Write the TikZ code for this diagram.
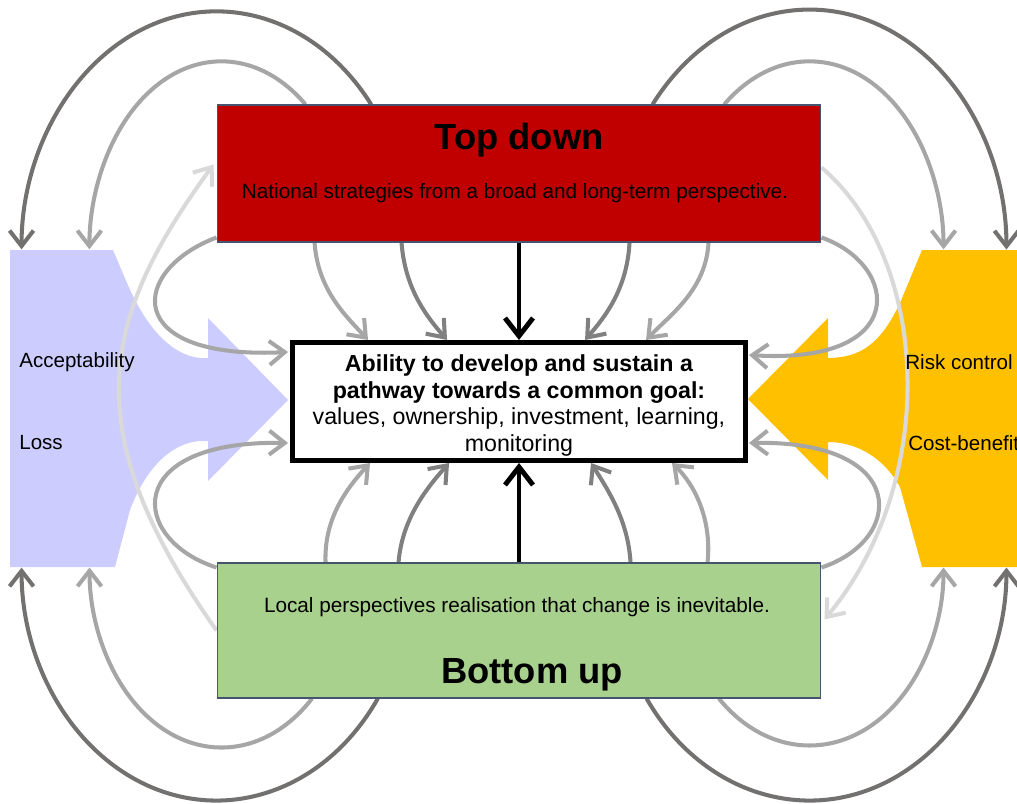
\documentclass[tikz,border=0pt]{standalone}
\usepackage{fontspec}
\setmainfont{Liberation Sans}
\usetikzlibrary{arrows.meta,calc,positioning,backgrounds}

\definecolor{topred}{RGB}{192,0,0}
\definecolor{botgreen}{RGB}{169,209,142}
\definecolor{lavender}{RGB}{204,204,255}
\definecolor{amber}{RGB}{255,192,0}
\definecolor{edgeblue}{RGB}{70,84,112}
\definecolor{arcdark}{RGB}{115,112,112}
\definecolor{arcmid}{RGB}{166,166,166}
\definecolor{arclight}{RGB}{217,217,217}
\definecolor{innerdark}{RGB}{128,128,128}

\tikzset{
  barb/.style={-{Straight Barb[length=3.1mm,width=4.8mm]}, line width=2.3pt},
  darkarr/.style={barb, draw=arcdark},
  midarr/.style={barb, draw=arcmid},
  lightarr/.style={barb, draw=arclight},
  innerarr/.style={barb, draw=innerdark},
  blackarr/.style={-{Straight Barb[length=3.6mm,width=5.6mm]}, line width=2.8pt, draw=black},
  levelbox/.style={draw=edgeblue, line width=0.6pt, minimum width=12.08cm, inner sep=0pt},
  goalbox/.style={draw=black, fill=white, line width=2.85pt, minimum width=9.06cm, minimum height=2.36cm, inner sep=0pt},
  goaltext/.style={align=center, inner sep=0pt, font=\fontsize{13.2}{15.3}\selectfont},
  sidetext/.style={anchor=west, inner sep=0pt, font=\fontsize{11.7}{14}\selectfont},
  boxtext/.style={inner sep=0pt, font=\fontsize{11.8}{14}\selectfont},
  headtext/.style={inner sep=0pt, font=\bfseries\fontsize{20.7}{24}\selectfont},
}

\begin{document}
\begin{tikzpicture}[x=0.02cm,y=0.02cm]
\useasboundingbox (0,0) rectangle (1017,-804);

% the three boxes
\node[levelbox, fill=topred, minimum height=2.74cm] (top) at (519,-173.5) {};
\node[levelbox, fill=botgreen, minimum height=2.70cm] (bottom) at (519,-630.5) {};
\node[goalbox] (goal) at (519,-401.5) {};

\node[headtext] (topdown) at (519,-140) {Top down};
\node[boxtext] (national) at (515,-193) {National strategies from a broad and long-term perspective.};
\node[boxtext] (local) at (517,-607) {Local perspectives realisation that change is inevitable.};
\node[headtext] (bottomup) at (532,-675) {Bottom up};
\node[goaltext] (ability) at (519,-405.5) {\textbf{Ability to develop and sustain a}\\
  \textbf{pathway towards a common goal:}\\
  values, ownership, investment, learning,\\
  monitoring};

% side labels
\node[sidetext] (accept) at (19,-362) {Acceptability};
\node[sidetext] (loss) at (19,-443) {Loss};
\node[sidetext] (risk) at (905,-362) {Risk control};
\node[sidetext] (cost) at (908,-443) {Cost-benefit};

\begin{scope}[on background layer]
% side arrows
\fill[lavender] (10,-250) -- (113,-250) -- (127,-283) .. controls (145,-325) and (170,-355) .. (200,-358)
  -- (208,-358) -- (208,-318) -- (288,-400) -- (208,-481) -- (208,-441) -- (200,-441)
  .. controls (170,-443) and (145,-470) .. (130,-510) -- (115,-567) -- (10,-567) -- cycle;
\fill[amber] (1017,-250) -- (922,-250) -- (900,-303) .. controls (880,-345) and (860,-357) .. (830,-358)
  -- (828,-358) -- (828,-318) -- (748,-399) -- (828,-480) -- (828,-442) -- (830,-442)
  .. controls (860,-443) and (885,-460) .. (900,-487) -- (922,-567) -- (1017,-567) -- cycle;

% outer loops
\draw[darkarr] ($(top.north west)+(154.7,0)$) arc[start angle=37.5, end angle=180, x radius=195, y radius=238];
\draw[midarr] ($(top.north west)+(89,0)$) arc[start angle=50.4, end angle=180, x radius=132, y radius=188];
\draw[darkarr] ($(top.north west)+(436,0)$) arc[start angle=142.8, end angle=0, x radius=197, y radius=240];
\draw[midarr] ($(top.north west)+(507.6,0)$) arc[start angle=129.6, end angle=0, x radius=134, y radius=188];
\draw[darkarr] ($(bottom.south west)+(161.3,0)$) arc[start angle=-34.2, end angle=-180, x radius=195, y radius=233];
\draw[midarr] ($(bottom.south west)+(95.5,0)$) arc[start angle=-46.7, end angle=-180, x radius=132, y radius=180];
\draw[darkarr] ($(bottom.south west)+(430,0)$) arc[start angle=-145.8, end angle=0, x radius=197, y radius=233];
\draw[midarr] ($(bottom.south west)+(502.3,0)$) arc[start angle=-132.6, end angle=0, x radius=134, y radius=178];

% light crossing loops
\draw[lightarr] (bottom.west) .. controls (75,-430) and (100,-320) .. ($(top.north west)+(-3,-60)$);
\draw[lightarr] ($(top.north east)+(0,-63)$) .. controls (930,-260) and (940,-480) .. ($(bottom.north east)+(3,-57)$);

% side loops into the goal
\draw[midarr] ($(top.south west)+(0,5)$) .. controls (130,-270) and (120,-360) .. ($(goal.north west)+(-2,-12)$);
\draw[midarr] ($(top.south east)+(0,5)$) .. controls (900,-265) and (910,-365) .. ($(goal.north east)+(1,-15)$);
\draw[midarr] ($(bottom.north west)+(0,-5)$) .. controls (130,-540) and (120,-440) .. ($(goal.south west)+(-2,20)$);
\draw[midarr] ($(bottom.north east)+(0,-5)$) .. controls (905,-540) and (910,-440) .. ($(goal.south east)+(1,20)$);

% top down
\draw[midarr] ($(top.south west)+(98,0)$) .. controls (318,-290) and (345,-315) .. ($(goal.north west)+(78,0)$);
\draw[innerarr] ($(top.south west)+(185,0)$) .. controls (405,-290) and (428,-318) .. ($(goal.north west)+(157,0)$);
\draw[innerarr] ($(top.south west)+(413,0)$) .. controls (627,-290) and (604,-318) .. ($(goal.north west)+(295,0)$);
\draw[midarr] ($(top.south west)+(492,0)$) .. controls (706,-290) and (670,-315) .. ($(goal.north west)+(356,0)$);
\draw[blackarr] (top.south) -- (goal.north);

% bottom up
\draw[midarr] ($(bottom.north west)+(109,0)$) .. controls (324,-520) and (345,-490) .. ($(goal.south west)+(80,0)$);
\draw[innerarr] ($(bottom.north west)+(182,0)$) .. controls (402,-520) and (425,-490) .. ($(goal.south west)+(159,0)$);
\draw[innerarr] ($(bottom.north west)+(414,0)$) .. controls (628,-520) and (608,-490) .. ($(goal.south west)+(301,0)$);
\draw[midarr] ($(bottom.north west)+(491,0)$) .. controls (712,-520) and (695,-485) .. ($(goal.south west)+(382,0)$);
\draw[blackarr] (bottom.north) -- (goal.south);
\end{scope}
\end{tikzpicture}
\end{document}
